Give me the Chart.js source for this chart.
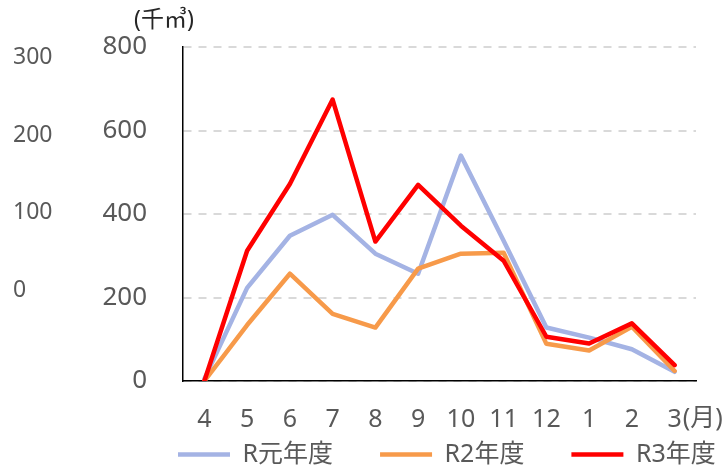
<!DOCTYPE html>
<html>
<head>
<meta charset="utf-8">
<script src="https://cdn.jsdelivr.net/npm/chart.js@4"></script>
<style>
  body { margin: 0; background: #fff; }
</style>
</head>
<body>
<canvas id="chart" width="727" height="467"></canvas>
<script>
const months = ["4", "5", "6", "7", "8", "9", "10", "11", "12", "1", "2", "3"];
const r1 = [5, 223, 348, 398, 305, 257, 540, 336, 128, 104, 76, 22];
const r2 = [0, 134, 257, 161, 128, 269, 305, 307, 89, 73, 130, 24];
const r3 = [0, 312, 472, 674, 334, 470, 372, 288, 106, 90, 138, 38];
const ghostTicks = [0, 100, 200, 300];

const FONT = "'Noto Sans', 'Noto Sans CJK JP', sans-serif";
const GREY = "#595959";
const X_PAD = 24;

// unit label, "(月)" after the last month, and legend moved under the plot
const extras = {
  id: "extras",
  afterLayout(chart) {
    const lg = chart.legend;
    const pad = lg.options.labels.padding;
    const dx = chart.chartArea.left - 5 - (lg.left + pad);
    lg.left += dx;
    lg.right += dx;
    // legend clips to its own box, so make the box hold the row
    lg.top = chart.chartArea.bottom + 73 - pad - 12;
    lg.bottom = chart.height;
    lg.height = lg.bottom - lg.top;
  },
  afterDraw(chart) {
    const ctx = chart.ctx;
    const x = chart.scales.x;
    ctx.save();
    ctx.fillStyle = GREY;
    ctx.textBaseline = "middle";
    ctx.font = "25px " + FONT;
    const last = months.length - 1;
    const w = ctx.measureText(months[last]).width;
    ctx.textAlign = "left";
    ctx.fillText("(月)", x.getPixelForTick(last) + w / 2 + 1, x.top + X_PAD + 14);
    ctx.fillStyle = "#262626";
    ctx.textAlign = "center";
    ctx.font = "23px " + FONT;
    ctx.fillText("(千㎥)", chart.chartArea.left - 19, 20);
    ctx.restore();
  },
};

new Chart(document.getElementById("chart"), {
  type: "line",
  data: {
    labels: months,
    datasets: [
      { label: "R元年度", data: r1, borderColor: "#A4B3E4", backgroundColor: "#A4B3E4", order: 2 },
      { label: "R2年度", data: r2, borderColor: "#F79A4A", backgroundColor: "#F79A4A", order: 1 },
      { label: "R3年度", data: r3, borderColor: "#FF0000", backgroundColor: "#FF0000", order: 0 },
    ].map((d) => ({
      ...d,
      borderWidth: 4.5,
      pointRadius: 0,
      tension: 0,
      borderCapStyle: "round",
      borderJoinStyle: "round",
      pointStyle: "line",
    })),
  },
  options: {
    responsive: false,
    animation: false,
    layout: { padding: { left: 13, right: 31, top: 47, bottom: 0 } },
    plugins: {
      title: { display: false },
      tooltip: { enabled: false },
      legend: {
        position: "bottom",
        align: "start",
        maxHeight: 8,
        labels: {
          usePointStyle: true,
          pointStyleWidth: 52,
          padding: 47,
          color: GREY,
          font: { family: FONT, size: 25 },
          sort: (a, b) => a.datasetIndex - b.datasetIndex,
        },
      },
    },
    scales: {
      x: {
        offset: true,
        grid: { display: false, drawTicks: false },
        border: { display: true, color: "#000", width: 1.5 },
        ticks: { color: GREY, font: { family: FONT, size: 25 }, padding: X_PAD, maxRotation: 0, autoSkip: false },
      },
      y: {
        position: "left",
        weight: 0,
        min: 0,
        max: 800,
        ticks: { stepSize: 200, color: GREY, font: { family: FONT, size: 26 }, padding: 0 },
        // invisible tick marks keep the labels clear of the axis line
        grid: { color: "#D9D9D9", lineWidth: 2, drawTicks: true, tickLength: 36, tickColor: "rgba(0,0,0,0)" },
        border: { display: true, color: "#000", width: 1.5, dash: [8, 7] },
        afterFit: (s) => { s.width = 80; },
      },
      y2: {
        position: "left",
        weight: 1,
        min: -116,
        max: 313,
        afterBuildTicks: (s) => { s.ticks = ghostTicks.map((v) => ({ value: v })); },
        ticks: { color: GREY, font: { family: FONT, size: 23 }, crossAlign: "far", padding: 0 },
        grid: { display: false, drawTicks: false },
        border: { display: false },
        afterFit: (s) => { s.width = 90; },
      },
    },
  },
  plugins: [extras],
});
</script>
</body>
</html>
